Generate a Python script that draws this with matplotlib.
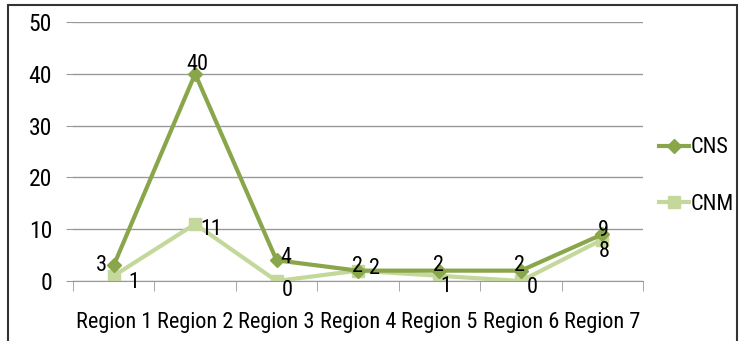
import matplotlib
matplotlib.use("Agg")
import matplotlib.pyplot as plt
from matplotlib import font_manager
from matplotlib.patches import Rectangle

categories = ["Region 1", "Region 2", "Region 3", "Region 4", "Region 5", "Region 6", "Region 7"]
cns = [3, 40, 4, 2, 2, 2, 9]
cnm = [1, 11, 0, 2, 1, 0, 8]

# look for a condensed sans font (Calibri-like look)
fam, stretch = "DejaVu Sans", "normal"
cands = [f for f in font_manager.fontManager.ttflist
         if str(f.stretch) in ("condensed", "semi-condensed", "extra-condensed")
         or "Narrow" in f.name or "Condensed" in f.name]
pref = ["Liberation Sans Narrow", "Roboto Condensed", "Open Sans Condensed", "Noto Sans", "DejaVu Sans"]
chosen = None
for p in pref:
    for f in cands:
        if f.name == p and f.style == "normal" and f.weight in (400, "normal", "regular"):
            chosen = f
            break
    if chosen:
        break
if chosen is None and cands:
    chosen = cands[0]
if chosen is not None:
    fam, stretch = chosen.name, chosen.stretch
plt.rcParams["font.family"] = [fam, "DejaVu Sans"]
plt.rcParams["font.stretch"] = stretch
narrow = chosen is not None
fs = 16 if narrow else 13

c_cns = "#8aa64a"
c_cnm = "#c4d89c"

fig = plt.figure(figsize=(7.4, 3.41), dpi=100)
ax = fig.add_axes([73/740, 1-281/341, 570/740, 259/341])
x = list(range(len(categories)))
ax.plot(x, cns, color=c_cns, lw=3, marker="D", ms=7, label="CNS", zorder=3)
ax.plot(x, cnm, color=c_cnm, lw=3, marker="s", ms=9, label="CNM", zorder=2)

ax.set_xlim(-0.5, 6.5)
ax.set_ylim(0, 50)
ax.set_yticks(range(0, 51, 10))
ax.set_xticks(x)
ax.set_xticklabels(categories, fontsize=fs)
ax.set_xticks([i + 0.5 for i in range(-1, 7)], minor=True)
ax.tick_params(axis="x", which="major", length=0, pad=22)
ax.tick_params(axis="x", which="minor", length=7, color="#999999")
ax.tick_params(axis="y", length=5, color="#999999", labelsize=fs + 1, pad=10)
ax.grid(axis="y", color="#999999", lw=1)
ax.set_axisbelow(True)
for s in ["top", "right", "left"]:
    ax.spines[s].set_visible(False)
ax.spines["bottom"].set_color("#999999")

# data labels (offsets in points)
cns_off = [(-9, 0), (1.5, 6.5), (6.5, 2), (-0.7, 3), (-0.7, 3.6), (-0.7, 3.6), (0.7, 3)]
for xi, v, (dx, dy) in zip(x, cns, cns_off):
    ax.annotate(str(v), (xi, v), xytext=(dx, dy), textcoords="offset points",
                ha="center", va="center", fontsize=fs)
cnm_off = [(14.4, -5), (11.5, -4.3), (8, -6.5), (12, 1.4), (4.3, -8), (8, -5), (1.5, -8.6)]
for xi, v, (dx, dy) in zip(x, cnm, cnm_off):
    ax.annotate(str(v), (xi, v), xytext=(dx, dy), textcoords="offset points",
                ha="center", va="center", fontsize=fs)

ax.legend(loc="center left", bbox_to_anchor=(1.0, 0.405), frameon=False, fontsize=fs,
          handlelength=1.35, labelspacing=1.6, handletextpad=0.1, borderaxespad=0.3)

fig.patches.append(Rectangle((8/740, -0.1), 729/740, 1-5/341+0.1, transform=fig.transFigure,
                             fill=False, ec="#333333", lw=1.5))
fig.savefig("out.png", dpi=100)
